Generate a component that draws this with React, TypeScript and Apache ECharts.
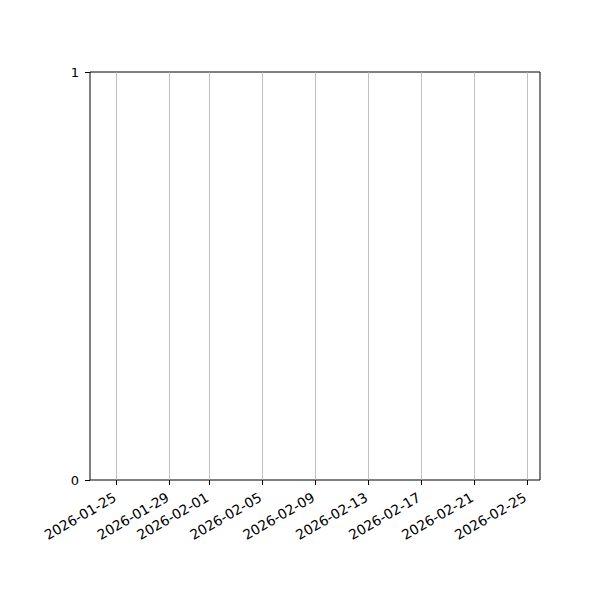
import React, { useEffect, useRef } from "react";
import * as echarts from "echarts";

// Data (the reference chart is empty: no marks drawn)
const xTickLabels = [
  "2026-01-25",
  "2026-01-29",
  "2026-02-01",
  "2026-02-05",
  "2026-02-09",
  "2026-02-13",
  "2026-02-17",
  "2026-02-21",
  "2026-02-25",
];
const xRange = ["2026-01-23", "2026-02-26"];
const yTickValues = [0, 1];
const seriesValues: [number, number][] = [];

const xTickValues = xTickLabels.map((s) => Date.parse(s));

export default function App() {
  const ref = useRef<HTMLDivElement>(null);

  useEffect(() => {
    if (!ref.current) return;
    const chart = echarts.init(ref.current, null, { renderer: "svg" });
    const font = "DejaVu Sans";
    chart.setOption({
      animation: false,
      backgroundColor: "#ffffff",
      grid: {
        left: 90,
        top: 72,
        width: 450,
        height: 408,
        show: true,
        borderColor: "#000000",
        borderWidth: 1,
        backgroundColor: "transparent",
      },
      xAxis: {
        type: "value",
        min: Date.parse(xRange[0]),
        max: Date.parse(xRange[1]),
        axisLine: { show: false },
        axisTick: {
          show: true,
          inside: false,
          length: 5,
          customValues: xTickValues,
          lineStyle: { color: "#000000", width: 1 },
        },
        axisLabel: {
          show: true,
          customValues: xTickValues,
          rotate: 30,
          margin: 15,
          padding: [0, 2, 0, 0],
          fontFamily: font,
          fontSize: 13.8,
          color: "#000000",
          formatter: (v: number) => {
            const i = xTickValues.indexOf(v);
            return i >= 0 ? xTickLabels[i] : "";
          },
        },
        splitLine: {
          show: true,
          lineStyle: { color: "#b0b0b0", width: 0.8 },
        },
      },
      yAxis: {
        type: "value",
        min: yTickValues[0],
        max: yTickValues[yTickValues.length - 1],
        interval: 1,
        axisLine: { show: false },
        axisTick: {
          show: true,
          inside: false,
          length: 5,
          lineStyle: { color: "#000000", width: 1 },
        },
        axisLabel: {
          show: true,
          margin: 11,
          fontFamily: font,
          fontSize: 13,
          color: "#000000",
        },
        splitLine: { show: false },
      },
      series: [
        {
          type: "line",
          data: seriesValues,
          showSymbol: false,
        },
      ],
    });
    return () => chart.dispose();
  }, []);

  return (
    <div
      ref={ref}
      style={{ position: "fixed", left: 0, top: 0, width: 600, height: 600 }}
    />
  );
}
